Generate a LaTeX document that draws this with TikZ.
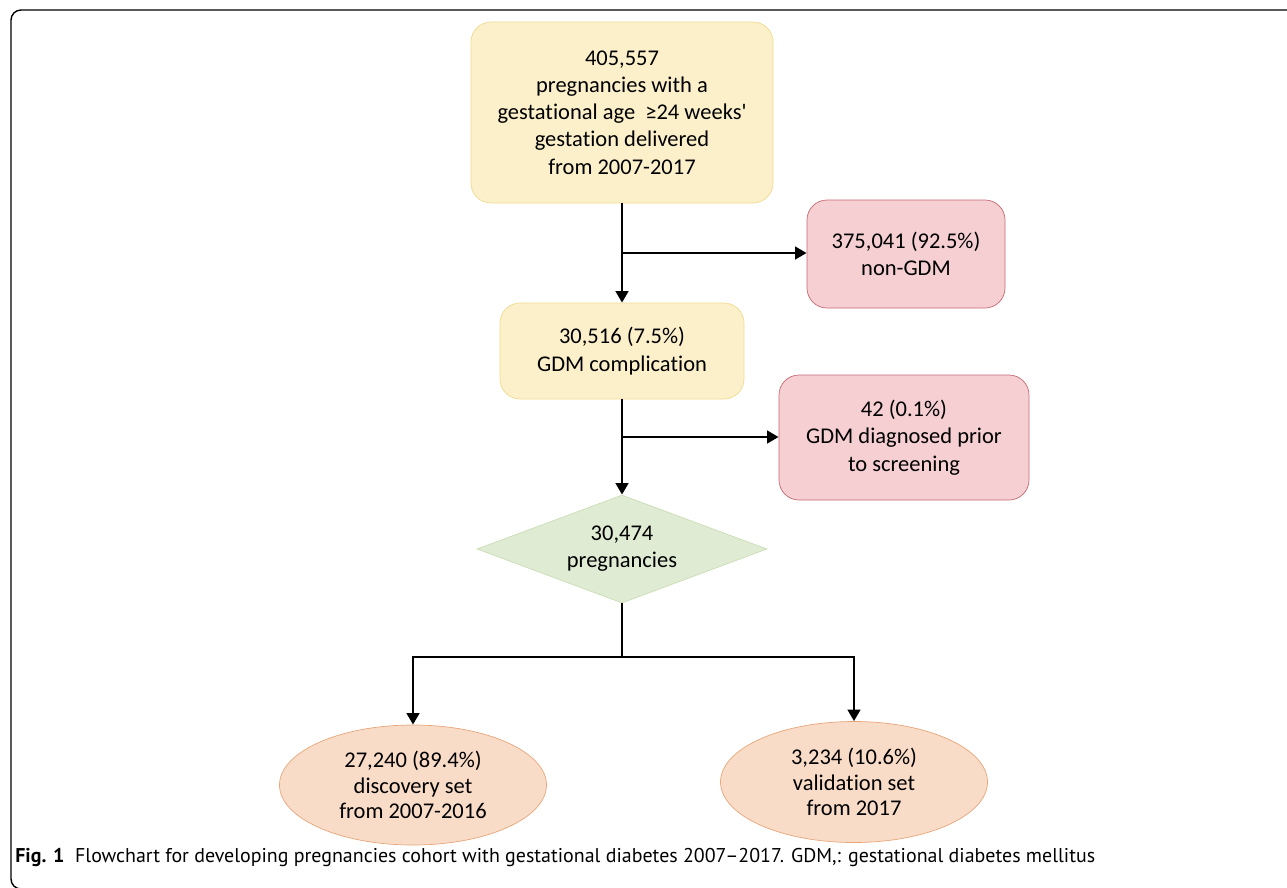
\documentclass[tikz,border=0pt]{standalone}
\usepackage{fontspec}
\newfontfamily\boxfont{Carlito}[Ligatures=NoCommon]
\newfontfamily\capfont{PT Sans}
\usetikzlibrary{shapes.geometric,arrows.meta}
\definecolor{yfill}{HTML}{FCF0CB}
\definecolor{yline}{HTML}{F0DA8E}
\definecolor{rfill}{HTML}{F6CFD2}
\definecolor{rline}{HTML}{C46A72}
\definecolor{gfill}{HTML}{E0EBD3}
\definecolor{gline}{HTML}{CADDB5}
\definecolor{ofill}{HTML}{F9DCC8}
\definecolor{oline}{HTML}{E6A67A}
\newcommand\pxl{0.02cm}
\tikzset{ybox/.style={draw=yline, fill=yfill, rounded corners=0.4cm, inner sep=0pt, align=center, font=\boxfont\fontsize{12.8}{15.5}\selectfont},
         rbox/.style={draw=rline, fill=rfill, rounded corners=0.4cm, inner sep=0pt, align=center, font=\boxfont\fontsize{12.8}{15.5}\selectfont},
         gdiamond/.style={diamond, aspect=2.7, draw=gline, fill=gfill, inner sep=0pt, align=center, font=\boxfont\fontsize{12.8}{15.5}\selectfont},
         oval/.style={ellipse, draw=oline, fill=ofill, inner sep=0pt, align=center, font=\boxfont\fontsize{12.8}{14.5}\selectfont},
         flow/.style={line width=1.6pt, -{Triangle[width=7pt,length=6.5pt]}}}

\begin{document}
\begin{tikzpicture}[x=\pxl,y=-\pxl]
                    \useasboundingbox (0,0) rectangle (1287,887);
                    \clip (0,0) rectangle (1287,887);
                    \draw[line width=0.8pt, rounded corners=0.2cm] (1300,10) -- (11,10) -- (11,889) -- (1300,889);

                    \node[ybox, minimum width=302*\pxl, minimum height=181*\pxl] (total) at (622,112.5)
                        {405,557\\pregnancies with a\\gestational age\ \ ≥24 weeks'\\gestation delivered\\from 2007-2017};
                    \node[ybox, minimum width=244*\pxl, minimum height=96*\pxl] (gdm) at (622,351)
                        {30,516 (7.5\%)\\GDM complication};
                    \node[rbox, minimum width=198*\pxl, minimum height=108*\pxl] (nongdm) at (906,254)
                        {375,041 (92.5\%)\\non-GDM};
                    \node[rbox, minimum width=250*\pxl, minimum height=125*\pxl] (prior) at (904,437.5)
                        {42 (0.1\%)\\GDM diagnosed prior\\to screening};
                    \node[gdiamond, minimum width=290*\pxl, minimum height=108*\pxl] (preg) at (622,549)
                        {30,474\\pregnancies};
                    \node[oval, minimum width=267*\pxl, minimum height=120*\pxl] (disc) at (413,785)
                        {27,240 (89.4\%)\\discovery set\\from 2007-2016};
                    \node[oval, minimum width=267*\pxl, minimum height=121*\pxl] (valid) at (854,782)
                        {3,234 (10.6\%)\\validation set\\from 2017};

                    \coordinate (j1) at (622,253);
                    \coordinate (j2) at (622,437);
                    \coordinate (j3) at (622,657);

                    \draw[flow] (total.south) -- (gdm.north);
                    \draw[flow] (j1) -- (j1 -| nongdm.west);
                    \draw[flow] (gdm.south) -- (preg.north);
                    \draw[flow] (j2) -- (j2 -| prior.west);
                    \draw[line width=1.6pt] (preg.south) -- (j3);
                    \draw[flow] (j3) -| (disc.north);
                    \draw[flow] (j3) -| (valid.north);

                    \node[anchor=base west, inner sep=0pt, font=\capfont\fontsize{11.35}{13}\selectfont] (cap) at (15,862)
                        {\textbf{Fig. 1}\ \ Flowchart for developing pregnancies cohort with gestational diabetes 2007–2017. GDM,: gestational diabetes mellitus};
                \end{tikzpicture}
\end{document}
